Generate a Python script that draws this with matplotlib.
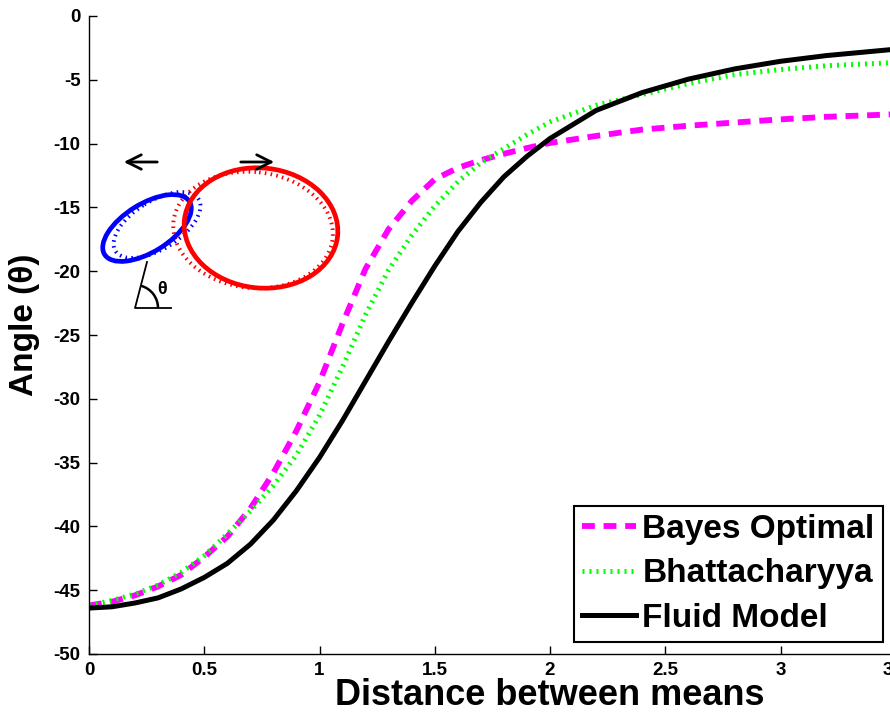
import matplotlib
matplotlib.use('Agg')
import matplotlib.pyplot as plt
from matplotlib.patches import Ellipse, Arc

plt.rcParams['font.family'] = ['Liberation Sans', 'DejaVu Sans']
plt.rcParams['font.weight'] = 'bold'
plt.rcParams['axes.unicode_minus'] = False

# data
dist = [0, 0.1, 0.2, 0.3, 0.4, 0.5, 0.6, 0.7, 0.8, 0.9, 1.0, 1.1, 1.2, 1.3,
        1.4, 1.5, 1.6, 1.7, 1.8, 1.9, 2.0, 2.2, 2.4, 2.6, 2.8, 3.0, 3.2, 3.5]
bayes = [-46.2, -45.9, -45.4, -44.7, -43.8, -42.4, -40.8, -38.6, -35.8, -32.5,
         -28.7, -24.1, -19.8, -16.7, -14.5, -12.8, -11.9, -11.3, -10.8, -10.35,
         -9.95, -9.4, -8.9, -8.6, -8.35, -8.1, -7.9, -7.7]
bhatt = [-46.2, -45.8, -45.3, -44.6, -43.6, -42.3, -40.6, -38.8, -36.8, -34.4,
         -31.3, -27.5, -23.4, -19.9, -17.2, -14.9, -13.0, -11.5, -10.4, -9.3,
         -8.3, -7.0, -6.15, -5.3, -4.6, -4.2, -3.9, -3.65]
fluid = [-46.4, -46.3, -46.0, -45.6, -44.9, -44.0, -42.9, -41.4, -39.5, -37.2,
         -34.6, -31.7, -28.6, -25.5, -22.5, -19.6, -16.9, -14.6, -12.6, -11.0,
         -9.6, -7.4, -6.0, -4.95, -4.15, -3.55, -3.1, -2.6]
xticks = [0, 0.5, 1, 1.5, 2, 2.5, 3, 3.5]
xticklabels = ['0', '0.5', '1', '1.5', '2', '2.5', '3', '3.5']
yticks = list(range(-50, 1, 5))

fig = plt.figure(figsize=(8.9, 7.12), dpi=100)
# the original axes runs past the right edge of the picture
ax = fig.add_axes([89 / 890, 58 / 712, 922 / 890, 638 / 712])

ax.plot(dist, bayes, color='#FF00FF', lw=4.2, linestyle=(0, (2.2, 1.5)),
        dash_capstyle='butt', label='Bayes Optimal')
ax.plot(dist, bhatt, color='#00FF00', lw=3.6, linestyle=(0, (0.4, 1.0)),
        dash_capstyle='butt', label='Bhattacharyya')
ax.plot(dist, fluid, color='black', lw=3.6, label='Fluid Model')

ax.set_xlim(0, 4)
ax.set_ylim(-50, 0)
ax.set_xticks(xticks)
ax.set_xticklabels(xticklabels)
ax.set_yticks(yticks)
ax.tick_params(direction='in', length=6, width=1, labelsize=13.5, pad=6)
for s in ['top', 'right']:
    ax.spines[s].set_visible(False)
for s in ['left', 'bottom']:
    ax.spines[s].set_linewidth(1)

ax.set_xlabel('Distance between means', fontsize=26, fontweight='bold', labelpad=-0.8)
ax.set_ylabel('Angle (θ)', fontsize=24, fontweight='bold')
ax.yaxis.set_label_coords(-0.053, 0.516)

leg = ax.legend(loc='lower right', bbox_to_anchor=(883 / 890, 70 / 712),
                bbox_transform=fig.transFigure, fontsize=24, frameon=True,
                fancybox=False, edgecolor='black', framealpha=1,
                handlelength=1.6, handletextpad=0.2, labelspacing=0.4,
                borderpad=0.25, borderaxespad=0)
leg.get_frame().set_linewidth(1.5)

# schematic of the two Gaussians, drawn in pixel units
ov = fig.add_axes([0, 0, 1, 1])
ov.set_xlim(0, 890)
ov.set_ylim(712, 0)
ov.axis('off')
ov.patch.set_visible(False)

dot = (0, (0.4, 1.1))
ov.add_patch(Ellipse((157, 225), 98, 48, angle=-32, fill=False, ec='#0000FF',
                     lw=2.8, linestyle=dot))
ov.add_patch(Ellipse((253, 230), 160, 116, angle=6, fill=False, ec='#FF0000',
                     lw=2.8, linestyle=dot))
ov.add_patch(Ellipse((147, 228), 100, 48, angle=-32, fill=False, ec='#0000FF', lw=3.4))
ov.add_patch(Ellipse((261, 228), 154, 120, angle=6, fill=False, ec='#FF0000', lw=3.4))

ov.annotate('', xy=(121, 162), xytext=(160, 162),
            arrowprops=dict(arrowstyle='->', lw=2, color='black', mutation_scale=26))
ov.annotate('', xy=(277, 162), xytext=(238, 162),
            arrowprops=dict(arrowstyle='->', lw=2, color='black', mutation_scale=26))

ov.plot([147, 135, 171], [262, 308, 308], color='black', lw=1.3)
ov.add_patch(Arc((135, 308), 46, 46, theta1=-75, theta2=0, color='black', lw=1.8))
ov.text(162, 290, 'θ', fontsize=13, fontweight='bold', ha='center', va='center')

fig.savefig('out.png', dpi=100)
